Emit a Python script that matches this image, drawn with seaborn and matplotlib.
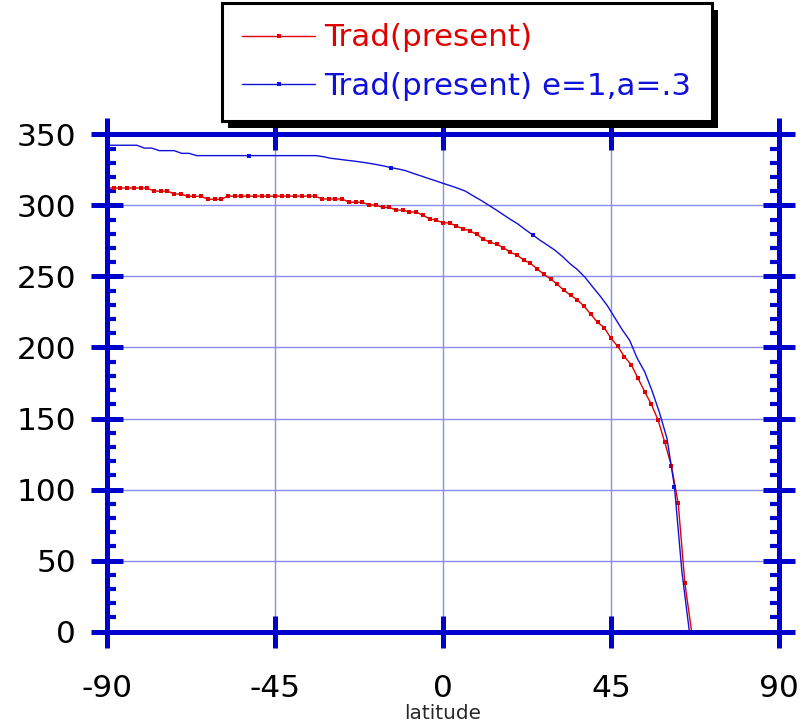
import numpy as np
import matplotlib
matplotlib.use("Agg")
import matplotlib.pyplot as plt
import seaborn as sns
from matplotlib.patches import Rectangle
from matplotlib.transforms import IdentityTransform
from matplotlib.ticker import FixedLocator, FixedFormatter, MultipleLocator

# Latitude grids (degrees)
lat_present = np.round(np.linspace(-90, 90, 101), 1)   # 1.8 deg spacing
lat_ea = np.arange(-90, 91, 2)                          # 2 deg spacing

# Trad(present)
trad_present = [
    312.2, 312.2, 312.2, 312.2, 312.2, 312.2, 312.2,
    310.0, 310.0, 310.0,
    308.0, 308.0,
    306.4, 306.4, 306.4,
    304.3, 304.3, 304.3,
    306.5, 306.5, 306.5, 306.5, 306.5, 306.5, 306.5,
    306.5, 306.5, 306.5, 306.5, 306.5, 306.5, 306.5,
    304.5, 304.5, 304.5, 304.5,
    302.2, 302.2, 302.2,
    300.3, 300.3,
    298.6, 298.6,
    296.7, 296.7,
    295.3, 295.3,
    293.0, 290.6, 289.5, 287.8, 287.6, 285.3, 283.6, 282.0, 279.6, 276.3,
    274.0, 272.6, 270.2, 267.0, 265.0, 261.6, 259.2, 255.4, 251.5, 248.2,
    244.5, 240.2, 236.7, 233.4, 229.0, 223.3, 217.7, 213.9, 206.4, 200.8,
    193.5, 187.9, 178.5, 169.0, 160.0, 149.0, 133.3, 116.4, 90.4, 34.0,
    0, 0, 0, 0, 0, 0, 0, 0, 0, 0, 0, 0, 0, 0,
]

# Trad(present) with e=1, a=.3
trad_ea = [
    342.3, 342.3, 342.3, 342.3, 342.3,
    340.3, 340.3,
    338.5, 338.5, 338.5,
    336.6, 336.6,
    335.0, 335.0, 335.0, 335.0, 335.0, 335.0, 335.0, 335.0, 335.0,
    335.0, 335.0, 335.0, 335.0, 335.0, 335.0, 335.0, 335.0,
    334.2, 333.1, 332.5, 331.8, 331.2, 330.5, 329.7, 328.8, 327.8, 326.6,
    325.6, 324.4, 322.5, 320.8, 319.0, 317.3, 315.5, 313.8, 312.0, 310.0,
    306.8, 303.8, 300.5, 297.2, 293.7, 290.2, 287.0, 283.0, 279.3, 275.4,
    272.0, 268.4, 264.0, 259.0, 254.8, 249.5, 242.9, 236.5, 229.5, 221.0,
    212.5, 205.0, 192.5, 183.0, 169.5, 154.0, 136.0, 102.0, 42.0,
    0, 0, 0, 0, 0, 0, 0, 0, 0, 0, 0, 0, 0,
]
ea_marked = [0, 19, 38, 57, 76]

x_ticks = [-90, -45, 0, 45, 90]
x_tick_labels = ["-90", "-45", "0", "45", "90"]

series_labels = ["Trad(present)", "Trad(present) e=1,a=.3"]

RED = "#e00000"
BLUE = "#1010dd"
FRAME = "#0000cc"
GRID = "#8a8af0"

sns.set_style("white")
plt.rcParams["font.family"] = ["DejaVu Sans"]

fig = plt.figure(figsize=(8.07, 7.25), dpi=100)
ax = fig.add_axes([107 / 807, 93.3 / 725, 672 / 807, 497.4 / 725])

sns.lineplot(x=lat_present, y=trad_present, ax=ax, color=RED, linewidth=1.0,
             marker="s", markersize=3.0, markeredgewidth=0,
             estimator=None, sort=False, label=series_labels[0])
sns.lineplot(x=lat_ea, y=trad_ea, ax=ax, color=BLUE, linewidth=1.0,
             marker="s", markersize=3.0, markeredgewidth=0, markevery=ea_marked,
             estimator=None, sort=False, label=series_labels[1])

ax.set_xlim(-90, 90)
ax.set_ylim(0, 350)

ax.xaxis.set_major_locator(FixedLocator(x_ticks))
ax.xaxis.set_major_formatter(FixedFormatter(x_tick_labels))
ax.yaxis.set_major_locator(MultipleLocator(50))
ax.yaxis.set_minor_locator(MultipleLocator(10))

ax.grid(True, which="major", color=GRID, linewidth=1.0)
ax.set_axisbelow(True)

for side in ["left", "right", "top", "bottom"]:
    ax.spines[side].set_visible(True)
    ax.spines[side].set_color(FRAME)
    ax.spines[side].set_linewidth(3.6)

ax.tick_params(which="major", direction="inout", length=22.5, width=3.6,
               color=FRAME, labelcolor="black", labelsize=22.5,
               top=True, right=True, bottom=True, left=True)
ax.tick_params(axis="x", which="major", pad=19)
ax.tick_params(axis="y", which="major", pad=11)
ax.tick_params(axis="y", which="minor", direction="in", length=6.5, width=3.0,
               color=FRAME, left=True, right=True)
ax.tick_params(axis="x", which="minor", bottom=False, top=False)

ax.set_xlabel("latitude", fontsize=14.4, labelpad=1)
ax.set_ylabel("")

handles, labels = ax.get_legend_handles_labels()
ax.get_legend().remove()
leg = fig.legend(handles, labels, loc="upper left",
                 bbox_to_anchor=(222 / 807, 1 - 3 / 725),
                 bbox_transform=fig.transFigure, borderaxespad=0,
                 fontsize=22.3, frameon=True, fancybox=False, framealpha=1,
                 facecolor="white", edgecolor="black", borderpad=0.66,
                 handlelength=2.35, handletextpad=0.3, labelspacing=0.62,
                 numpoints=1, labelcolor="linecolor")
leg.get_frame().set_linewidth(2.2)
leg.set_zorder(6)

# drop shadow behind the legend box
fig.canvas.draw()
bb = leg.get_frame().get_window_extent()
shadow = Rectangle((bb.x0 + 6, bb.y0 - 7), bb.width, bb.height,
                   transform=IdentityTransform(), facecolor="black",
                   edgecolor="none", zorder=5)
fig.add_artist(shadow)

fig.savefig("out.png", dpi=100)
